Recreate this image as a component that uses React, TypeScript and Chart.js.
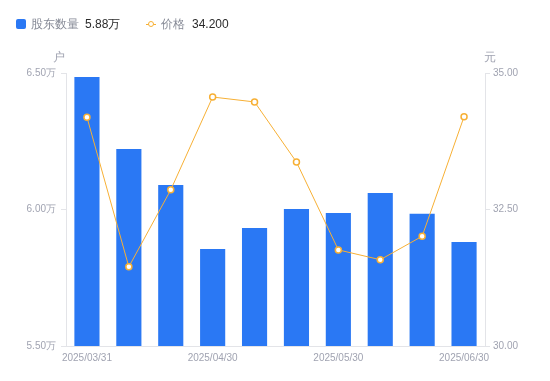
import React, { useEffect, useRef } from "react";
import { Chart, registerables } from "chart.js";

Chart.register(...registerables);

const categories = [
  "2025/03/31", "2025/04/10", "2025/04/20", "2025/04/30", "2025/05/10",
  "2025/05/20", "2025/05/30", "2025/06/10", "2025/06/20", "2025/06/30",
];
const holders = [64850, 62220, 60900, 58550, 59320, 60020, 59870, 60600, 59840, 58810];
const prices = [34.19, 31.45, 32.86, 34.56, 34.47, 33.37, 31.76, 31.58, 32.01, 34.2];
const shownLabels = ["2025/03/31", "2025/04/30", "2025/05/30", "2025/06/30"];
const leftTicks = [55000, 60000, 65000];
const rightTicks = [30, 32.5, 35];

const BLUE = "#2a78f4";
const ORANGE = "#f7b035";
const TICK = "#a0a3b1";
const AXIS = "#e3e4e8";
const FONT = "'Liberation Sans', Arial, sans-serif";

export default function App() {
  const ref = useRef<HTMLCanvasElement | null>(null);
  useEffect(() => {
    if (!ref.current) return;
    const chart = new Chart(ref.current, {
      data: {
        labels: categories,
        datasets: [
          {
            type: "line",
            label: "价格",
            data: prices,
            yAxisID: "y1",
            borderColor: ORANGE,
            borderWidth: 1,
            pointRadius: 3,
            pointBorderWidth: 1.5,
            pointBackgroundColor: "#ffffff",
            pointBorderColor: ORANGE,
            tension: 0,
            order: 0,
          },
          {
            type: "bar",
            label: "股东数量",
            data: holders,
            yAxisID: "y",
            backgroundColor: BLUE,
            barPercentage: 0.6,
            categoryPercentage: 1,
            order: 1,
          },
        ],
      } as any,
      options: {
        animation: false,
        responsive: false,
        maintainAspectRatio: false,
        layout: { padding: { top: 73, left: 0, right: 0, bottom: 0 } },
        plugins: { legend: { display: false }, tooltip: { enabled: false } },
        scales: {
          x: {
            offset: true,
            grid: { display: false, drawTicks: false },
            border: { display: true, color: AXIS },
            ticks: {
              autoSkip: false,
              maxRotation: 0,
              padding: 6,
              color: TICK,
              font: { size: 10, family: FONT },
              callback: (_v: any, i: number) =>
                shownLabels.includes(categories[i]) ? categories[i] : "",
            },
            afterFit: (s: any) => { s.height = 35; },
          },
          y: {
            position: "left",
            min: 55000,
            max: 65000,
            afterBuildTicks: (s: any) => { s.ticks = leftTicks.map((v) => ({ value: v })); },
            grid: { display: true, drawOnChartArea: false, tickLength: 5, color: AXIS },
            border: { display: true, color: AXIS },
            ticks: {
              padding: 5,
              color: TICK,
              font: { size: 10, family: FONT },
              callback: (v: any) => (Number(v) / 10000).toFixed(2) + "万",
            },
            afterFit: (s: any) => { s.width = 66; },
          },
          y1: {
            position: "right",
            min: 30,
            max: 35,
            afterBuildTicks: (s: any) => { s.ticks = rightTicks.map((v) => ({ value: v })); },
            grid: { display: true, drawOnChartArea: false, tickLength: 5, color: AXIS },
            border: { display: true, color: AXIS },
            ticks: {
              padding: 3,
              color: TICK,
              font: { size: 10, family: FONT },
              callback: (v: any) => Number(v).toFixed(2),
            },
            afterFit: (s: any) => { s.width = 65; },
          },
        },
      } as any,
    });
    return () => chart.destroy();
  }, []);

  const textStyle: React.CSSProperties = { position: "absolute", fontSize: 12, fontFamily: FONT, lineHeight: "14px", whiteSpace: "nowrap" };
  return (
    <div style={{ position: "fixed", left: 0, top: 0, width: 550, height: 381, background: "#fff" }}>
      <canvas ref={ref} width={550} height={381} style={{ position: "absolute", left: 0, top: 0, width: 550, height: 381 }} />
      <div style={{ position: "absolute", left: 16, top: 19, width: 10, height: 10, borderRadius: 2, background: BLUE }} />
      <div style={{ ...textStyle, left: 31, top: 17, color: "#868a96" }}>股东数量</div>
      <div style={{ ...textStyle, left: 85, top: 17, color: "#2b2b2b" }}>5.88万</div>
      <div style={{ position: "absolute", left: 146, top: 23.5, width: 10, height: 1, background: ORANGE }} />
      <div style={{ position: "absolute", left: 148, top: 20.5, width: 4, height: 4, borderRadius: "50%", border: `1.5px solid ${ORANGE}`, background: "#fff" }} />
      <div style={{ ...textStyle, left: 161, top: 17, color: "#868a96" }}>价格</div>
      <div style={{ ...textStyle, left: 192, top: 17, color: "#2b2b2b" }}>34.200</div>
      <div style={{ ...textStyle, left: 53, top: 50, color: TICK, fontSize: 12 }}>户</div>
      <div style={{ ...textStyle, left: 484, top: 50, color: TICK, fontSize: 12 }}>元</div>
    </div>
  );
}
